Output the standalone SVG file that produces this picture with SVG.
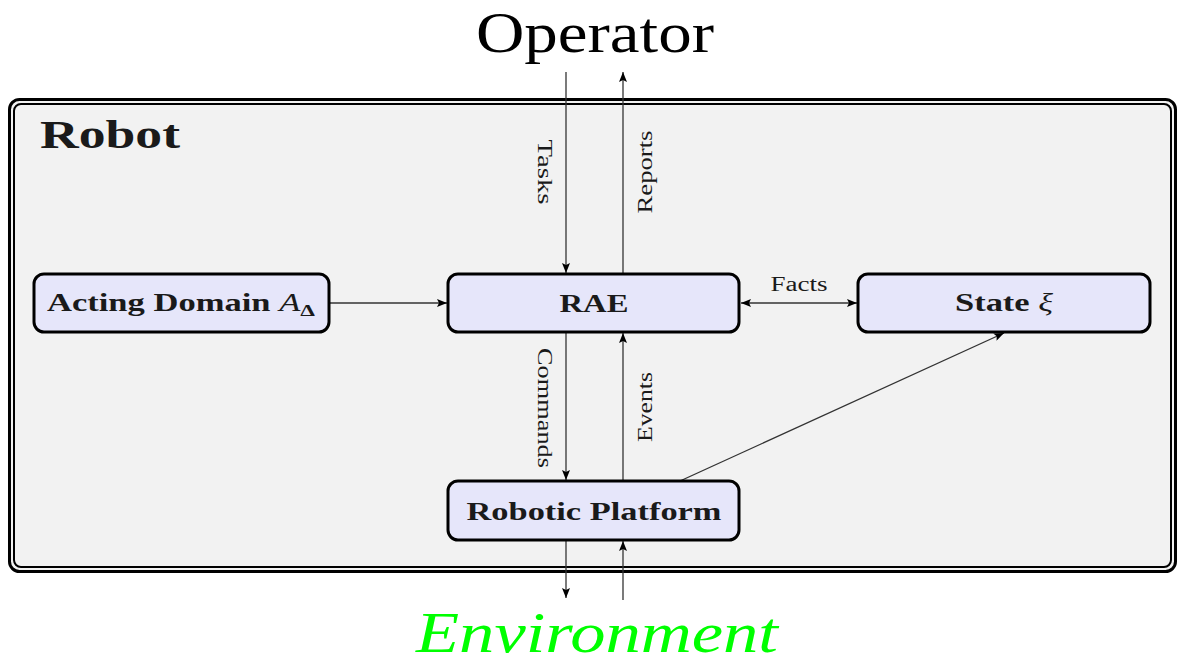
<svg xmlns="http://www.w3.org/2000/svg" width="1183" height="664" viewBox="0 0 1183 664">
<style>
.box{fill:#e6e6fa;stroke:#000;stroke-width:3}
.lbl{font-family:"Liberation Serif",serif;font-weight:bold;font-size:25px;fill:#1a1a1a;text-anchor:middle}
.edge{stroke:#333;stroke-width:1.3;fill:none}
.el{font-family:"Liberation Serif",serif;font-size:20px;fill:#1a1a1a;text-anchor:middle}
</style>
<defs>
<marker id="ah" viewBox="0 0 10 8" refX="10" refY="4" markerWidth="10" markerHeight="8" markerUnits="userSpaceOnUse" orient="auto-start-reverse">
<path d="M0,0 L10,4 L0,8 L2,4 Z" fill="#000"/>
</marker>
</defs>
<rect width="1183" height="664" fill="#fff"/>
<g id="robot">
<rect x="9.5" y="99.5" width="1166" height="472" rx="10" fill="#f2f2f2" stroke="#000" stroke-width="3"/>
<rect x="14" y="104" width="1157" height="463" rx="7" fill="#f2f2f2" stroke="#000" stroke-width="2"/>
<text x="40" y="148" font-family="Liberation Serif,serif" font-weight="bold" font-size="40" fill="#1a1a1a" textLength="140" lengthAdjust="spacingAndGlyphs">Robot</text>
</g>
<g id="operator"><text x="595" y="52" font-family="Liberation Serif,serif" font-size="56" fill="#000" text-anchor="middle" textLength="238" lengthAdjust="spacingAndGlyphs">Operator</text></g>
<g id="environment"><text x="597" y="652" font-family="Liberation Serif,serif" font-style="italic" font-size="56" fill="#00ff00" text-anchor="middle" textLength="362" lengthAdjust="spacingAndGlyphs">Environment</text></g>
<g id="connectors">
<line class="edge" x1="566" y1="72" x2="566" y2="273" marker-end="url(#ah)"/>
<line class="edge" x1="623" y1="273" x2="623" y2="72" marker-end="url(#ah)"/>
<line class="edge" x1="566" y1="333" x2="566" y2="480" marker-end="url(#ah)"/>
<line class="edge" x1="623" y1="480" x2="623" y2="333" marker-end="url(#ah)"/>
<line class="edge" x1="566" y1="541" x2="566" y2="598" marker-end="url(#ah)"/>
<line class="edge" x1="623" y1="600" x2="623" y2="541" marker-end="url(#ah)"/>
<line class="edge" x1="330" y1="303" x2="447" y2="303" marker-end="url(#ah)"/>
<line class="edge" x1="741" y1="303" x2="857" y2="303" marker-start="url(#ah)" marker-end="url(#ah)"/>
<line class="edge" x1="680" y1="481" x2="1004" y2="333" marker-end="url(#ah)"/>
<text class="el" transform="translate(538,172) rotate(90)" textLength="65" lengthAdjust="spacingAndGlyphs">Tasks</text>
<text class="el" transform="translate(652,172) rotate(-90)" textLength="83" lengthAdjust="spacingAndGlyphs">Reports</text>
<text class="el" transform="translate(538,408) rotate(90)" textLength="120" lengthAdjust="spacingAndGlyphs">Commands</text>
<text class="el" transform="translate(652,407) rotate(-90)" textLength="70" lengthAdjust="spacingAndGlyphs">Events</text>
<text class="el" x="799" y="291" textLength="57" lengthAdjust="spacingAndGlyphs">Facts</text>
</g>
<g id="acting">
<rect class="box" x="34" y="274" width="295" height="58" rx="10"/>
<text class="lbl" x="181" y="311" textLength="268" lengthAdjust="spacingAndGlyphs">Acting Domain <tspan font-style="italic" font-weight="normal">A</tspan><tspan font-weight="bold" font-size="17" dy="5">Δ</tspan></text>
</g>
<g id="rae">
<rect class="box" x="448" y="274" width="291" height="58" rx="10"/>
<text class="lbl" x="594" y="312" textLength="69" lengthAdjust="spacingAndGlyphs">RAE</text>
</g>
<g id="state">
<rect class="box" x="858" y="274" width="292" height="58" rx="10"/>
<text class="lbl" x="1004" y="311" textLength="98" lengthAdjust="spacingAndGlyphs">State <tspan font-style="italic" font-weight="normal">ξ</tspan></text>
</g>
<g id="platform">
<rect class="box" x="448" y="481" width="291" height="59" rx="10"/>
<text class="lbl" x="594" y="520" textLength="255" lengthAdjust="spacingAndGlyphs">Robotic Platform</text>
</g>
</svg>
